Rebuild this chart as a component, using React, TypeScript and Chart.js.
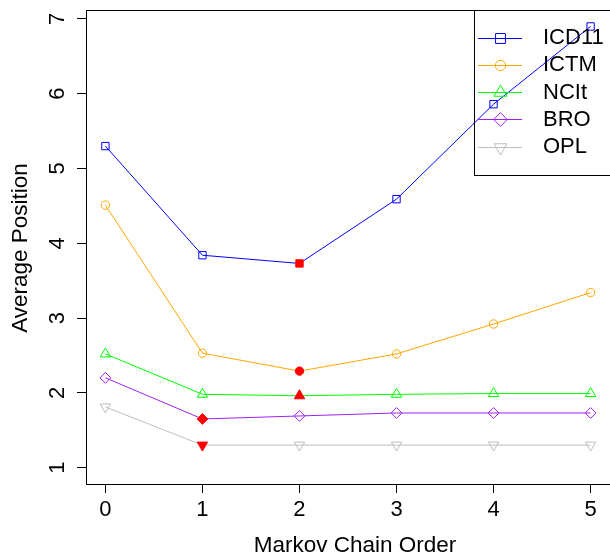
import React, { useEffect, useRef } from "react";
import { Chart, registerables } from "chart.js";
import { drawPoint } from "chart.js/helpers";

Chart.register(...registerables);

// ---- data ----
const orders = [0, 1, 2, 3, 4, 5];
const seriesNames = ["ICD11", "ICTM", "NCIt", "BRO", "OPL"];
const icd11 = [5.3, 3.84, 3.73, 4.59, 5.86, 6.9];
const ictm = [4.51, 2.53, 2.29, 2.52, 2.92, 3.34];
const ncit = [2.52, 1.98, 1.96, 1.98, 1.99, 1.99];
const bro = [2.2, 1.65, 1.69, 1.73, 1.73, 1.73];
const opl = [1.81, 1.3, 1.3, 1.3, 1.3, 1.3];
const bestIndex = [2, 2, 2, 1, 1];
const xTicks = [0, 1, 2, 3, 4, 5];
const yTicks = [1, 2, 3, 4, 5, 6, 7];
const xTitle = "Markov Chain Order";
const yTitle = "Average Position";

// ---- styles ----
const seriesValues = [icd11, ictm, ncit, bro, opl];
const colors = ["#0000FF", "#FFA500", "#00FF00", "#A020F0", "#BEBEBE"];
const styles = [
  { pointStyle: "rect", radius: 5.2, rotation: 0, legendRadius: 7 },
  { pointStyle: "circle", radius: 4.2, rotation: 0, legendRadius: 5.2 },
  { pointStyle: "triangle", radius: 6, rotation: 0, legendRadius: 7.5 },
  { pointStyle: "rectRot", radius: 5.4, rotation: 0, legendRadius: 6.8 },
  { pointStyle: "triangle", radius: 6, rotation: 180, legendRadius: 7.5 },
];
const RED = "#FF0000";
const FONT = "'Liberation Sans', Arial, sans-serif";

const rPlugin = {
  id: "rstyle",
  afterDraw(chart: any) {
    const { ctx, chartArea: a, scales } = chart;
    const xs = scales.x;
    const ys = scales.y;
    ctx.save();
    // box
    ctx.strokeStyle = "#000";
    ctx.lineWidth = 1;
    ctx.strokeRect(Math.round(a.left) + 0.5, Math.round(a.top) + 0.5, a.right - a.left, Math.round(a.bottom - a.top));
    // tick labels
    ctx.fillStyle = "#000";
    ctx.font = `22px ${FONT}`;
    ctx.textAlign = "center";
    ctx.textBaseline = "middle";
    xTicks.forEach((v) => {
      ctx.fillText(String(v), xs.getPixelForValue(v), 510);
    });
    yTicks.forEach((v) => {
      ctx.save();
      ctx.translate(58, ys.getPixelForValue(v));
      ctx.rotate(-Math.PI / 2);
      ctx.fillText(String(v), 0, 0);
      ctx.restore();
    });
    // titles
    ctx.font = `22.5px ${FONT}`;
    ctx.fillText(xTitle, 355, 546);
    ctx.save();
    ctx.translate(21, 248);
    ctx.rotate(-Math.PI / 2);
    ctx.fillText(yTitle, 0, 0);
    ctx.restore();
    // legend
    const lx = 474.5;
    const ly = 10.5;
    ctx.strokeStyle = "#000";
    ctx.strokeRect(lx, ly, 200, 165);
    ctx.font = `22px ${FONT}`;
    ctx.textAlign = "left";
    seriesNames.forEach((name, i) => {
      const y = 37.5 + i * 27.3;
      const py = Math.round(y) + 0.5;
      ctx.strokeStyle = colors[i];
      ctx.lineWidth = 1;
      ctx.beginPath();
      ctx.moveTo(478, py);
      ctx.lineTo(522, py);
      ctx.stroke();
      ctx.fillStyle = "rgba(0,0,0,0)";
      drawPoint(ctx, { pointStyle: styles[i].pointStyle, radius: styles[i].legendRadius, rotation: styles[i].rotation, borderWidth: 1 } as any, 500.5, py);
      ctx.fillStyle = "#000";
      ctx.fillText(name, 543, y + 0.5);
    });
    ctx.restore();
  },
};

export default function App() {
  const ref = useRef<HTMLCanvasElement | null>(null);
  useEffect(() => {
    if (!ref.current) return;
    const datasets = seriesValues.map((vals, i) => ({
      label: seriesNames[i],
      data: orders.map((o, j) => ({ x: o, y: vals[j] })),
      borderColor: colors[i],
      borderWidth: 1,
      pointStyle: styles[i].pointStyle,
      pointRadius: styles[i].radius,
      pointRotation: styles[i].rotation,
      pointBorderWidth: 1,
      pointBorderColor: orders.map((_, j) => (j === bestIndex[i] ? RED : colors[i])),
      pointBackgroundColor: orders.map((_, j) => (j === bestIndex[i] ? RED : "rgba(0,0,0,0)")),
      tension: 0,
      fill: false,
      clip: false as any,
    }));
    const chart = new Chart(ref.current, {
      type: "line",
      data: { datasets },
      plugins: [rPlugin],
      options: {
        animation: false,
        responsive: false,
        devicePixelRatio: 1,
        events: [],
        layout: { padding: { top: 10, left: 0, right: 0, bottom: 0 } },
        plugins: { legend: { display: false }, tooltip: { enabled: false } },
        scales: {
          x: {
            type: "linear",
            min: -0.2,
            max: 5.2,
            afterBuildTicks: (s: any) => {
              s.ticks = xTicks.map((v) => ({ value: v }));
            },
            afterFit: (s: any) => {
              s.height = 73;
              s.paddingLeft = 0;
              s.paddingRight = 0;
            },
            ticks: { display: false },
            grid: { display: true, drawOnChartArea: false, drawTicks: true, tickLength: 9, color: "#000", lineWidth: 1 },
            border: { display: false },
          },
          y: {
            type: "linear",
            min: 0.78,
            max: 7.12,
            afterBuildTicks: (s: any) => {
              s.ticks = yTicks.map((v) => ({ value: v }));
            },
            afterFit: (s: any) => {
              s.width = 86;
              s.paddingTop = 0;
              s.paddingBottom = 0;
            },
            ticks: { display: false },
            grid: { display: true, drawOnChartArea: false, drawTicks: true, tickLength: 9, color: "#000", lineWidth: 1 },
            border: { display: false },
          },
        },
      },
    });
    return () => chart.destroy();
  }, []);
  return (
    <div style={{ position: "fixed", left: 0, top: 0, width: 610, height: 557, overflow: "hidden", background: "#fff" }}>
      <canvas ref={ref} width={617} height={557} style={{ display: "block", width: 617, height: 557 }} />
    </div>
  );
}
